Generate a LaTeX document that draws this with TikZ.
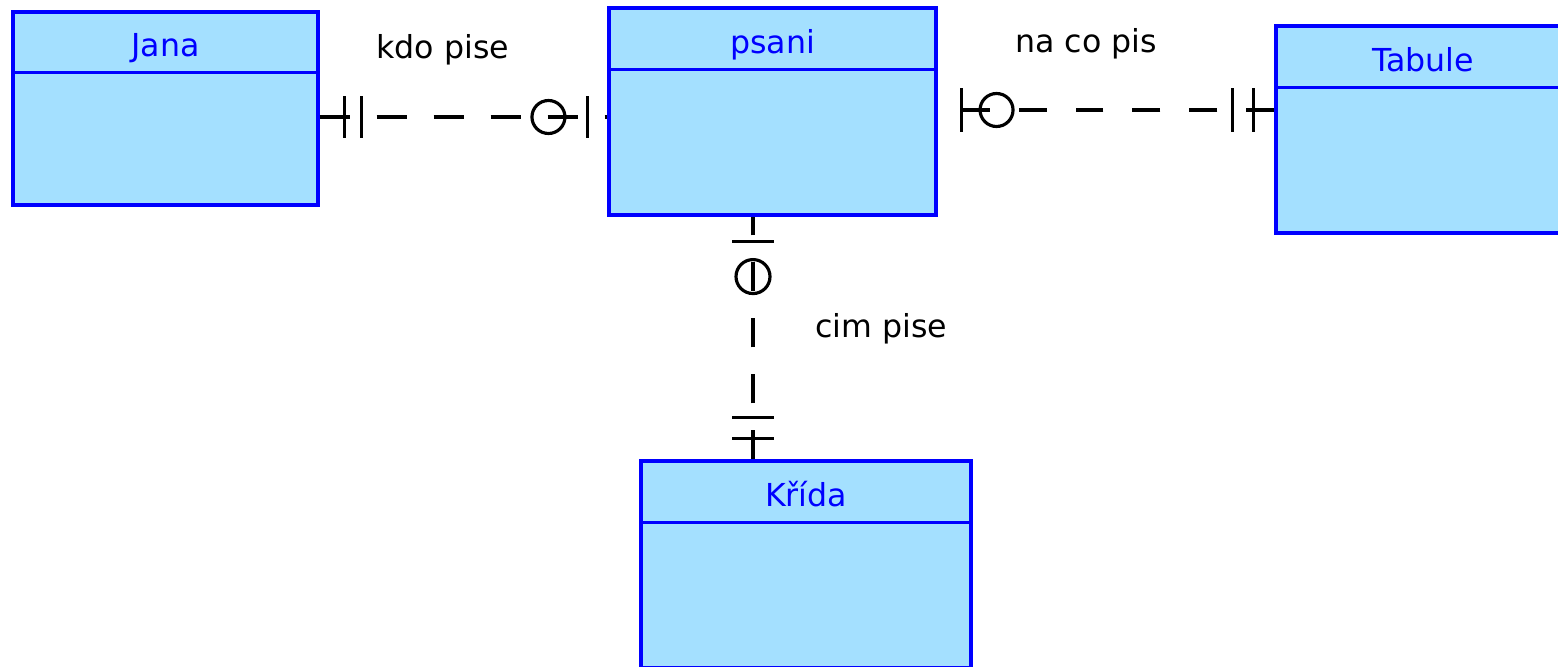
\documentclass[tikz,border=0pt]{standalone}
\usepackage{fontspec}
\setmainfont{DejaVu Sans}
\usepackage{xcolor}
\usetikzlibrary{calc}
\definecolor{EntBlue}{HTML}{0000FF}
\definecolor{EntFill}{HTML}{A4E0FF}

\begin{document}
\begin{tikzpicture}[x=0.02cm, y=-0.02cm,
    entity/.style={draw=EntBlue, fill=EntFill, line width=1.8pt, inner sep=0pt},
    hline/.style={draw=EntBlue, line width=1.8pt},
    ehead/.style={font=\fontsize{18}{22}\selectfont, text=EntBlue, anchor=base, inner sep=0pt},
    rel/.style={line width=1.8pt, dash pattern=on 0.58cm off 0.54cm},
    cbar/.style={line width=1.8pt},
    rlabel/.style={font=\fontsize{18}{22}\selectfont, anchor=base west, inner sep=0pt}
]
\useasboundingbox (0,0) rectangle (1558,666);

% Entities
\node[entity, minimum width=6.1cm, minimum height=3.86cm] (jana) at (165.5,108.5) {};
\node[entity, minimum width=6.54cm, minimum height=4.14cm] (psani) at (772.5,111.5) {};
\node[entity, minimum width=5.88cm, minimum height=4.14cm] (tabule) at (1423,129.5) {};
\node[entity, minimum width=6.6cm, minimum height=4.14cm] (krida) at (806,564.5) {};

% Header lines
\draw[hline] ($(jana.north west)+(0,62)$) -- ($(jana.north east)+(0,62)$);
\draw[hline] ($(psani.north west)+(0,63)$) -- ($(psani.north east)+(0,63)$);
\draw[hline] ($(tabule.north west)+(0,63)$) -- ($(tabule.north east)+(0,63)$);
\draw[hline] ($(krida.north west)+(0,63)$) -- ($(krida.north east)+(0,63)$);

% Header names
\node[ehead] (janat) at ($(jana.north)+(0,46)$) {Jana};
\node[ehead] (psanit) at ($(psani.north)+(0,47)$) {psani};
\node[ehead] (tabulet) at ($(tabule.north)+(0,47)$) {Tabule};
\node[ehead] (kridat) at ($(krida.north)+(0,47)$) {Křída};

% Jana -- psani
\coordinate (jp1) at (jana.east |- 0,117);
\coordinate (jp2) at (psani.west |- 0,117);
\draw[rel, dash pattern=on 0.6cm off 0.54cm] (jp1) -- (jp2);
\draw[cbar] ($(jp1)+(25,-21)$) -- ++(0,42);
\draw[cbar] ($(jp1)+(42,-21)$) -- ++(0,42);
\draw[cbar] ($(jp2)+(-59,0)$) circle[radius=0.33cm];
\draw[cbar] ($(jp2)+(-20,-21)$) -- ++(0,42);

% psani -- Tabule
\coordinate (pt1) at (psani.east |- 0,110);
\coordinate (pt2) at (tabule.west |- 0,110);
\draw[rel, dash pattern=on 0.56cm off 0.58cm] (pt2) -- (pt1);
\draw[cbar] ($(pt2)+(-21,-22)$) -- ++(0,44);
\draw[cbar] ($(pt2)+(-42,-22)$) -- ++(0,44);
\draw[cbar] ($(pt1)+(59,0)$) circle[radius=0.33cm];
\draw[cbar] ($(pt1)+(24,-22)$) -- ++(0,44);

% psani -- Krida
\coordinate (pk1) at (psani.south -| 753,0);
\coordinate (pk2) at (krida.north -| 753,0);
\draw[rel] (pk2) -- (pk1);
\draw[cbar] ($(pk2)+(-21,-21)$) -- ++(42,0);
\draw[cbar] ($(pk2)+(-21,-42)$) -- ++(42,0);
\draw[cbar] ($(pk1)+(0,60)$) circle[radius=0.34cm];
\draw[cbar] ($(pk1)+(-21,25)$) -- ++(42,0);

% Relation names
\node[rlabel] (kdo) at (376,58) {kdo pise};
\node[rlabel] (naco) at (1015,52) {na co pis};
\node[rlabel] (cim) at (815,337) {cim pise};
\end{tikzpicture}
\end{document}
